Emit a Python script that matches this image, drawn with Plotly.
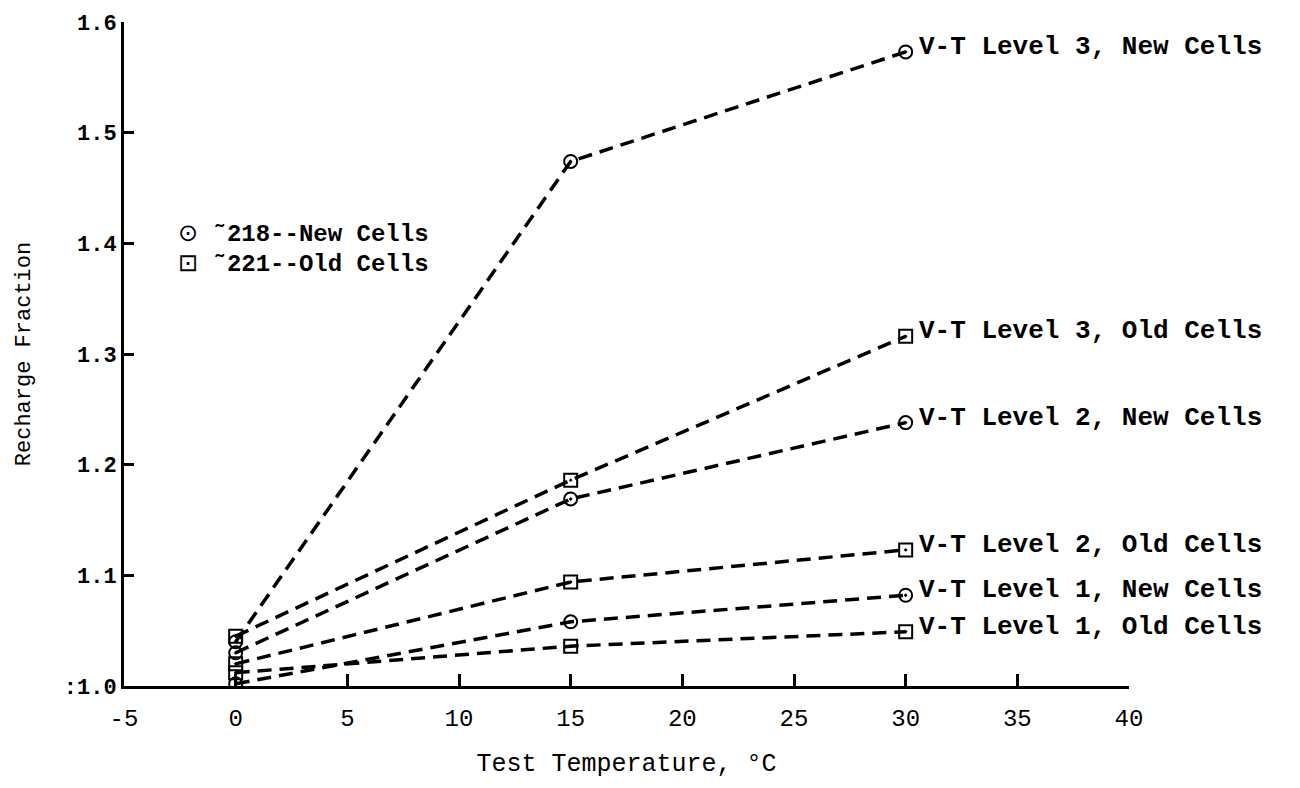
import plotly.graph_objects as go

temps = [0, 15, 30]
l3_new = [1.040, 1.474, 1.573]
l3_old = [1.045, 1.186, 1.316]
l2_new = [1.030, 1.169, 1.238]
l2_old = [1.020, 1.094, 1.123]
l1_new = [1.002, 1.058, 1.082]
l1_old = [1.012, 1.036, 1.049]

series = [
    ("V-T Level 3, New Cells", l3_new, "circle-open-dot"),
    ("V-T Level 3, Old Cells", l3_old, "square-open-dot"),
    ("V-T Level 2, New Cells", l2_new, "circle-open-dot"),
    ("V-T Level 2, Old Cells", l2_old, "square-open-dot"),
    ("V-T Level 1, New Cells", l1_new, "circle-open-dot"),
    ("V-T Level 1, Old Cells", l1_old, "square-open-dot"),
]

legend_symbols = ["⊙", "⊡"]
legend_labels = ["˜218--New Cells", "˜221--Old Cells"]

x_ticks = [-5, 0, 5, 10, 15, 20, 25, 30, 35, 40]
y_ticks = [1.0, 1.1, 1.2, 1.3, 1.4, 1.5, 1.6]
y_tick_text = [":1.0", "1.1", "1.2", "1.3", "1.4", "1.5", "1.6"]

FONT = "Liberation Mono, Courier New, monospace"

fig = go.Figure()
for name, vals, sym in series:
    fig.add_trace(go.Scatter(
        x=temps, y=vals, mode="lines+markers", showlegend=False,
        line=dict(color="black", width=3.5, dash="14px,8px"),
        marker=dict(symbol=sym, size=13, color="black", line=dict(color="black", width=2)),
    ))
    fig.add_annotation(x=temps[-1], y=vals[-1], text=name, showarrow=False,
                       xanchor="left", yanchor="middle", xshift=11, yshift=5,
                       font=dict(family=FONT, size=26, color="black", weight="bold"))

# legend block drawn as text rows
legend_top = 0.682
legend_step = 0.046
for i, (sym, lab) in enumerate(zip(legend_symbols, legend_labels)):
    fig.add_annotation(xref="paper", yref="paper", x=0.052, y=legend_top - i * legend_step,
                       text=f"<span style='font-family:DejaVu Sans;font-weight:normal'>{sym}</span> {lab}",
                       showarrow=False, xanchor="left", yanchor="middle",
                       font=dict(family=FONT, size=24, color="black", weight="bold"))

fig.update_layout(
    width=1300, height=788,
    margin=dict(l=124, r=171, t=22, b=102),
    paper_bgcolor="white", plot_bgcolor="white",
    font=dict(family=FONT, size=24, color="black"),
    showlegend=False,
)
fig.update_xaxes(
    range=[-5, 40], tickvals=x_ticks, ticktext=[str(v) for v in x_ticks],
    showgrid=False, zeroline=False, showline=True, linecolor="black", linewidth=3,
    ticks="inside", ticklen=12, tickwidth=2.5, tickcolor="black",
    tickfont=dict(family=FONT, size=24), ticklabelstandoff=8,
    title=dict(text="Test Temperature, °C", font=dict(family=FONT, size=25), standoff=22),
)
fig.update_yaxes(
    range=[1.0, 1.6], tickvals=y_ticks, ticktext=y_tick_text,
    showgrid=False, zeroline=False, showline=True, linecolor="black", linewidth=3,
    ticks="inside", ticklen=10, tickwidth=3, tickcolor="black",
    tickfont=dict(family=FONT, size=22, weight="bold"), ticklabelstandoff=0,
    title=dict(text="Recharge Fraction", font=dict(family=FONT, size=22), standoff=28),
)

fig.write_html("out.html")
